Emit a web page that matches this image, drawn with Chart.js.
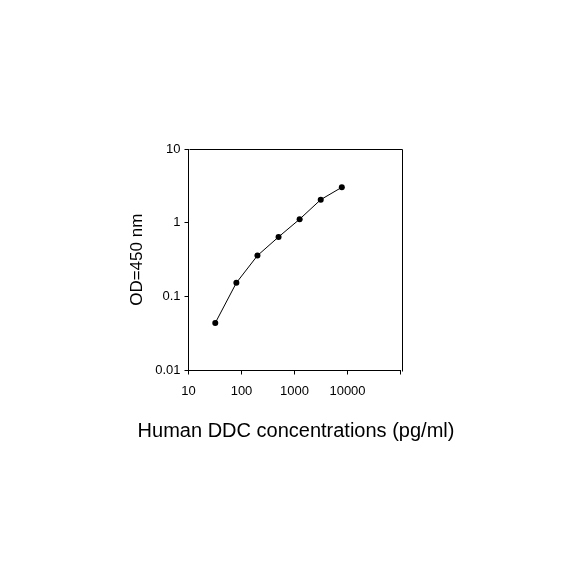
<!DOCTYPE html>
<html>
<head>
<meta charset="utf-8">
<script src="https://cdn.jsdelivr.net/npm/chart.js@4"></script>
<style>
html,body{margin:0;padding:0;background:#fff;}
canvas{display:block;}
</style>
</head>
<body>
<canvas id="c" width="584" height="584"></canvas>
<script>
// Data
const concentrations = [32, 80, 200, 500, 1250, 3125, 7812.5];
const od450 = [0.044, 0.154, 0.36, 0.644, 1.12, 2.06, 3.03];
const xTickValues = [10, 100, 1000, 10000, 100000];
const xTickLabels = ['10', '100', '1000', '10000', ''];
const yTickValues = [0.01, 0.1, 1, 10];
const yTickLabels = ['0.01', '0.1', '1', '10'];
const xTitle = 'Human DDC concentrations (pg/ml)';
const yTitle = 'OD=450 nm';

const points = concentrations.map((c, i) => ({x: c, y: od450[i]}));
const FONT = "'Liberation Sans', Arial, sans-serif";

const boxPlugin = {
  id: 'box',
  afterDraw(chart) {
    const {ctx, chartArea: a} = chart;
    ctx.save();
    ctx.strokeStyle = '#000';
    ctx.lineWidth = 1;
    ctx.beginPath();
    ctx.moveTo(Math.round(a.left) + 0.5, Math.round(a.top) + 0.5);
    ctx.lineTo(Math.round(a.right) + 1.5, Math.round(a.top) + 0.5);
    ctx.lineTo(Math.round(a.right) + 1.5, Math.round(a.bottom) + 0.5);
    ctx.stroke();
    ctx.restore();
  }
};

new Chart(document.getElementById('c'), {
  type: 'scatter',
  data: {
    datasets: [{
      data: points,
      showLine: true,
      borderColor: '#000',
      borderWidth: 1,
      backgroundColor: '#000',
      pointRadius: 3,
      pointBorderWidth: 0,
      pointBackgroundColor: '#000'
    }]
  },
  options: {
    responsive: false,
    animation: false,
    devicePixelRatio: 1,
    layout: {padding: {left: 8, right: 0, top: 149, bottom: 141}},
    plugins: {
      legend: {display: false},
      tooltip: {enabled: false},
      title: {
        display: true, position: 'bottom', fullSize: true, align: 'center',
        text: xTitle, color: '#000',
        font: {family: FONT, size: 20, weight: 'normal'},
        padding: {top: 18.5, bottom: 0}
      }
    },
    scales: {
      x: {
        type: 'logarithmic',
        position: 'bottom',
        min: 10, max: 100000,
        afterBuildTicks: s => { s.ticks = xTickValues.map(v => ({value: v})); },
        afterFit: s => { s.height = 30; s.paddingLeft = 0; s.paddingRight = 0; },
        ticks: {
          autoSkip: false, maxRotation: 0, minRotation: 0,
          color: '#000', padding: 9,
          font: {family: FONT, size: 13},
          callback: (v, i) => xTickLabels[i]
        },
        grid: {drawOnChartArea: false, tickLength: 4, color: '#000', lineWidth: 1},
        border: {display: true, color: '#000', width: 1}
      },
      y: {
        type: 'logarithmic',
        position: 'left',
        min: 0.01, max: 10,
        afterBuildTicks: s => { s.ticks = yTickValues.map(v => ({value: v})); },
        afterFit: s => { s.width = 180.5; },
        ticks: {
          autoSkip: false,
          color: '#000', padding: 4,
          font: {family: FONT, size: 13},
          callback: (v, i) => yTickLabels[i]
        },
        grid: {drawOnChartArea: false, tickLength: 4, color: '#000', lineWidth: 1},
        border: {display: true, color: '#000', width: 1},
        title: {display: true, text: yTitle, color: '#000', font: {family: FONT, size: 17}, padding: {top: 118.8, bottom: 4}}
      },
      yRight: {
        type: 'linear',
        position: 'right',
        display: true,
        afterFit: s => { s.width = 183.5; },
        ticks: {display: false},
        grid: {display: false},
        border: {display: false}
      }
    }
  },
  plugins: [boxPlugin]
});
</script>
</body>
</html>
